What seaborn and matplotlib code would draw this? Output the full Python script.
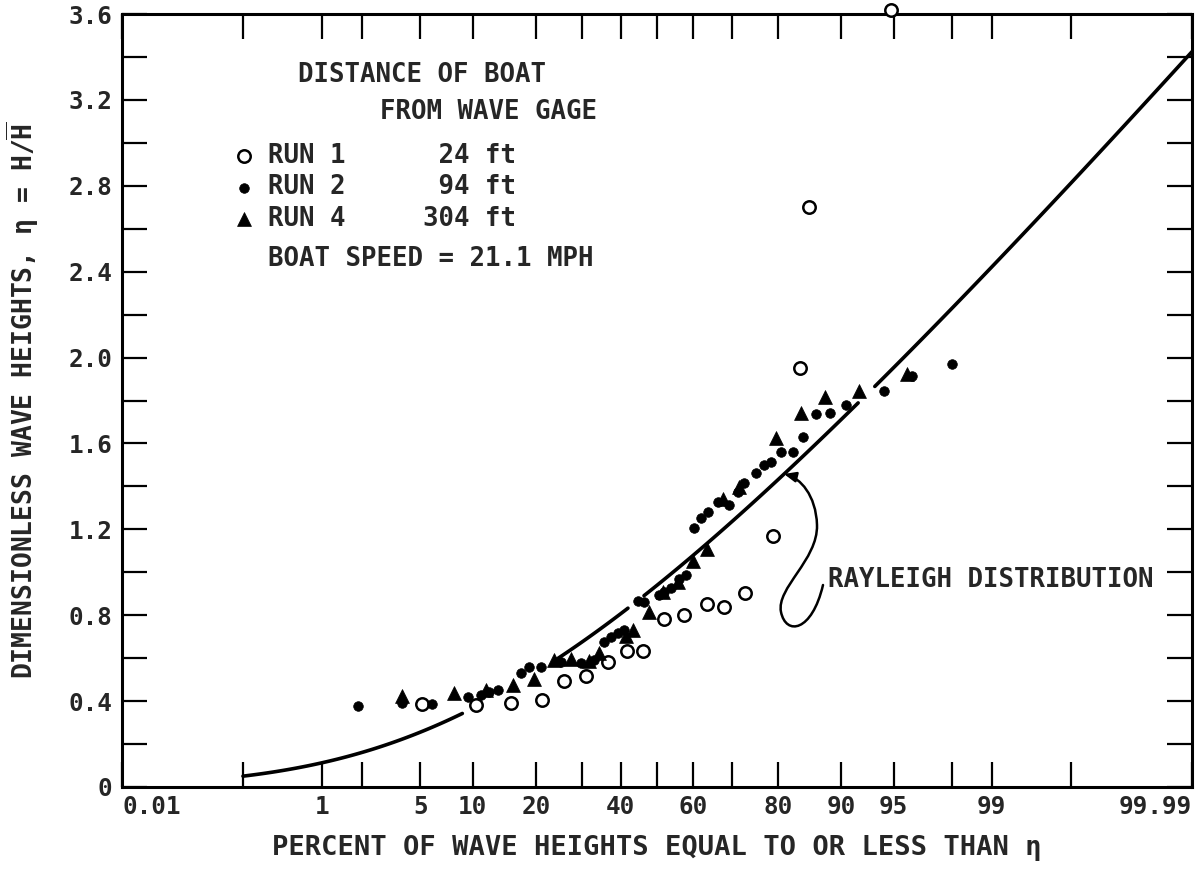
import math
import numpy as np
import pandas as pd
import matplotlib
matplotlib.use("Agg")
import matplotlib.pyplot as plt
import seaborn as sns
from matplotlib.path import Path
from matplotlib.patches import FancyArrowPatch
from matplotlib.font_manager import FontProperties

# ---------------- data ----------------
run1_pct = [5.1, 10.4, 15.5, 21.2, 25.9, 31.1, 36.7, 41.7, 46.1, 51.9, 57.5, 63.6,
            68.0, 73.0, 79.0, 84.0, 85.5, 94.8]
run1_eta = [0.387, 0.382, 0.391, 0.405, 0.494, 0.517, 0.582, 0.633, 0.633, 0.782, 0.801, 0.852,
            0.838, 0.904, 1.169, 1.952, 2.701, 3.619]

run2_pct = [1.87, 3.8, 5.9, 9.4, 11.0, 12.1, 13.4, 17.2, 18.6, 21.0,
            25.2, 29.8, 33.0, 35.6, 37.4, 39.3, 40.9, 44.7, 46.4, 50.6,
            51.9, 53.9, 56.1, 58.0, 60.2, 62.0, 63.9, 66.5, 69.2, 71.4,
            72.8, 75.5, 77.2, 78.6, 80.6, 82.8, 84.5, 86.6, 88.5, 90.6,
            94.3, 96.2, 98.0]
run2_eta = [0.377, 0.391, 0.387, 0.419, 0.428, 0.442, 0.452, 0.531, 0.559, 0.559,
            0.582, 0.578, 0.592, 0.675, 0.699, 0.717, 0.731, 0.866, 0.862, 0.894,
            0.908, 0.927, 0.969, 0.987, 1.206, 1.253, 1.281, 1.327, 1.313, 1.374,
            1.416, 1.462, 1.500, 1.514, 1.560, 1.560, 1.630, 1.737, 1.742, 1.779,
            1.844, 1.914, 1.970]

run4_pct = [3.8, 7.9, 11.7, 15.8, 19.6, 23.7, 27.5, 31.8, 34.3, 41.4, 43.4, 47.8,
            51.7, 55.8, 59.9, 63.6, 67.7, 71.6, 79.6, 84.2, 87.9, 92.0, 95.9]
run4_eta = [0.424, 0.438, 0.452, 0.475, 0.503, 0.592, 0.596, 0.587, 0.624, 0.703, 0.731, 0.815,
            0.908, 0.955, 1.053, 1.109, 1.341, 1.397, 1.626, 1.742, 1.816, 1.844, 1.924]

run_labels = ["RUN 1      24 ft", "RUN 2      94 ft", "RUN 4     304 ft"]

# Rayleigh line is drawn in pieces (the original breaks it where points crowd it)
rayleigh_segments = [(0.2, 8.8), (24.5, 42.0), (46.4, 91.9), (93.5, 99.99)]

x_tick_pos = [0.01, 0.2, 1, 2, 5, 10, 20, 30, 40, 50, 60, 70, 80, 90, 95, 98, 99, 99.8, 99.99]
x_tick_lab = ["0.01", "", "1", "", "5", "10", "20", "", "40", "", "60", "", "80", "90", "95",
              "", "99", "", "99.99"]
y_major = [0, 0.4, 0.8, 1.2, 1.6, 2.0, 2.4, 2.8, 3.2, 3.6]
y_major_lab = ["0", "0.4", "0.8", "1.2", "1.6", "2.0", "2.4", "2.8", "3.2", "3.6"]
y_minor = [0.2, 0.6, 1.0, 1.4, 1.8, 2.2, 2.6, 3.0, 3.4]


# ---------------- normal probability scale ----------------
_a = [-3.969683028665376e+01, 2.209460984245205e+02, -2.759285104469687e+02,
      1.383577518672690e+02, -3.066479806614716e+01, 2.506628277459239e+00]
_b = [-5.447609879822406e+01, 1.615858368580409e+02, -1.556989798598866e+02,
      6.680131188771972e+01, -1.328068155288572e+01]
_c = [-7.784894002430293e-03, -3.223964580411365e-01, -2.400758277161838e+00,
      -2.549732539343734e+00, 4.374664141464968e+00, 2.938163982698783e+00]
_d = [7.784695709041462e-03, 3.224671290700398e-01, 2.445134137142996e+00,
      3.754408661907416e+00]


def _ppf(p):
    p = np.clip(np.asarray(p, dtype=float), 1e-12, 1 - 1e-12)
    out = np.empty_like(p)
    plow = 0.02425
    with np.errstate(all="ignore"):
        lo = p < plow
        hi = p > 1 - plow
        mid = ~(lo | hi)
        q = np.sqrt(-2 * np.log(p))
        xl = (((((_c[0]*q+_c[1])*q+_c[2])*q+_c[3])*q+_c[4])*q+_c[5]) / \
             ((((_d[0]*q+_d[1])*q+_d[2])*q+_d[3])*q+1)
        q2 = np.sqrt(-2 * np.log(1 - p))
        xh = -(((((_c[0]*q2+_c[1])*q2+_c[2])*q2+_c[3])*q2+_c[4])*q2+_c[5]) / \
             ((((_d[0]*q2+_d[1])*q2+_d[2])*q2+_d[3])*q2+1)
        qm = p - 0.5
        r = qm * qm
        xm = (((((_a[0]*r+_a[1])*r+_a[2])*r+_a[3])*r+_a[4])*r+_a[5])*qm / \
             (((((_b[0]*r+_b[1])*r+_b[2])*r+_b[3])*r+_b[4])*r+1)
    out[lo] = xl[lo]
    out[hi] = xh[hi]
    out[mid] = xm[mid]
    return out


_erf = np.vectorize(math.erf)


def pct_to_z(pct):
    return _ppf(np.asarray(pct, dtype=float) / 100.0)


def z_to_pct(z):
    z = np.asarray(z, dtype=float)
    return 50.0 * (1.0 + _erf(z / math.sqrt(2.0)))


# ---------------- build tables ----------------
pts = pd.DataFrame({
    "pct": run1_pct + run2_pct + run4_pct,
    "eta": run1_eta + run2_eta + run4_eta,
    "run": ([run_labels[0]] * len(run1_pct) + [run_labels[1]] * len(run2_pct)
            + [run_labels[2]] * len(run4_pct)),
})

rows = []
for k, (lo, hi) in enumerate(rayleigh_segments):
    zz = np.linspace(pct_to_z([lo])[0], pct_to_z([hi])[0], 80)
    pp = z_to_pct(zz)
    ee = np.sqrt(-4.0 / np.pi * np.log(1.0 - pp / 100.0))
    for a, b in zip(pp, ee):
        rows.append((k, a, b))
line_df = pd.DataFrame(rows, columns=["seg", "pct", "eta"])

# ---------------- figure ----------------
sns.set_style("white")
plt.rcParams["font.family"] = ["DejaVu Sans Mono", "DejaVu Sans"]
plt.rcParams["font.weight"] = "bold"
plt.rcParams["mathtext.fontset"] = "custom"
plt.rcParams["mathtext.rm"] = "DejaVu Sans Mono:bold"
plt.rcParams["mathtext.default"] = "rm"

W, H = 1200, 869
fig = plt.figure(figsize=(W / 100, H / 100), dpi=100)
ax = fig.add_axes([122 / W, (H - 787) / H, 1070 / W, 773 / H])
ax.set_xscale("function", functions=(pct_to_z, z_to_pct))
ax.set_xlim(0.01, 99.99)
ax.set_ylim(0, 3.6)

sns.lineplot(data=line_df, x="pct", y="eta", units="seg", estimator=None, sort=False,
             color="black", linewidth=2.6, ax=ax, legend=False)

d1 = pts[pts.run == run_labels[0]]
d2 = pts[pts.run == run_labels[1]]
d4 = pts[pts.run == run_labels[2]]
sns.scatterplot(x=d1.pct, y=d1.eta, marker="o", s=80, color="white", edgecolor="black",
                linewidth=1.8, ax=ax, label=run_labels[0], clip_on=False, zorder=4)
sns.scatterplot(x=d2.pct, y=d2.eta, marker="o", s=48, color="black", edgecolor="black",
                linewidth=0.5, ax=ax, label=run_labels[1], zorder=4)
sns.scatterplot(x=d4.pct, y=d4.eta, marker="^", s=100, color="black", edgecolor="black",
                linewidth=0.5, ax=ax, label=run_labels[2], zorder=4)

# axes styling
for sp in ax.spines.values():
    sp.set_visible(True)
    sp.set_linewidth(2.2)
    sp.set_color("black")

ax.set_xticks(x_tick_pos)
ax.set_xticklabels(x_tick_lab, fontweight="bold")
ax.xaxis.set_minor_locator(matplotlib.ticker.NullLocator())
ax.set_yticks(y_major)
ax.set_yticklabels(y_major_lab, fontweight="bold")
ax.set_yticks(y_minor, minor=True)
ax.tick_params(axis="both", which="both", direction="in", length=18, width=1.6,
               top=True, right=True, bottom=True, left=True, color="black")
ax.tick_params(axis="x", labelsize=17.5, pad=6)
ax.tick_params(axis="y", labelsize=17.5, pad=7)
xl = ax.get_xticklabels()
xl[0].set_horizontalalignment("left")
xl[-1].set_horizontalalignment("right")

ax.set_xlabel("PERCENT OF WAVE HEIGHTS EQUAL TO OR LESS THAN \u03b7", fontsize=19.5,
              fontweight="bold", labelpad=11)
ax.set_ylabel("DIMENSIONLESS WAVE HEIGHTS, \u03b7 = H/$\\overline{H}$", fontsize=19,
              fontweight="bold", labelpad=20)


def fx(px):
    return (px - 122) / 1070.0


def fy(py):
    return (787 - py) / 773.0


# legend block
tkw = dict(transform=ax.transAxes, fontsize=18.5, fontweight="bold", va="center", ha="left")
ax.text(fx(298), fy(75), "DISTANCE OF BOAT", **tkw)
ax.text(fx(380), fy(112), "FROM WAVE GAGE", **tkw)
h, l = ax.get_legend_handles_labels()
order = [l.index(t) for t in run_labels]
leg = ax.legend([h[i] for i in order], [l[i] for i in order], loc="upper left",
                bbox_to_anchor=(fx(231), fy(143)), frameon=False,
                prop=FontProperties(family="DejaVu Sans Mono", size=18.5, weight="bold"),
                handlelength=1.0, handletextpad=0.45, labelspacing=0.21,
                borderpad=0, borderaxespad=0, scatterpoints=1)
ax.text(fx(268), fy(259), "BOAT SPEED = 21.1 MPH", **tkw)

# annotation
ax.text(fx(828), fy(580), "RAYLEIGH DISTRIBUTION", **tkw)
arrow_px = [(823, 585), (812, 632), (786, 636), (781, 612),
            (776, 588), (818, 560), (817, 525),
            (816, 495), (800, 478), (784, 474)]
verts = [(fx(a), fy(b)) for a, b in arrow_px]
codes = [Path.MOVETO] + [Path.CURVE4] * 9
arr = FancyArrowPatch(path=Path(verts, codes), arrowstyle="-|>,head_length=7,head_width=3",
                      color="black", linewidth=1.8, transform=ax.transAxes)
ax.add_patch(arr)

fig.savefig("out.png", dpi=100, facecolor="white")
